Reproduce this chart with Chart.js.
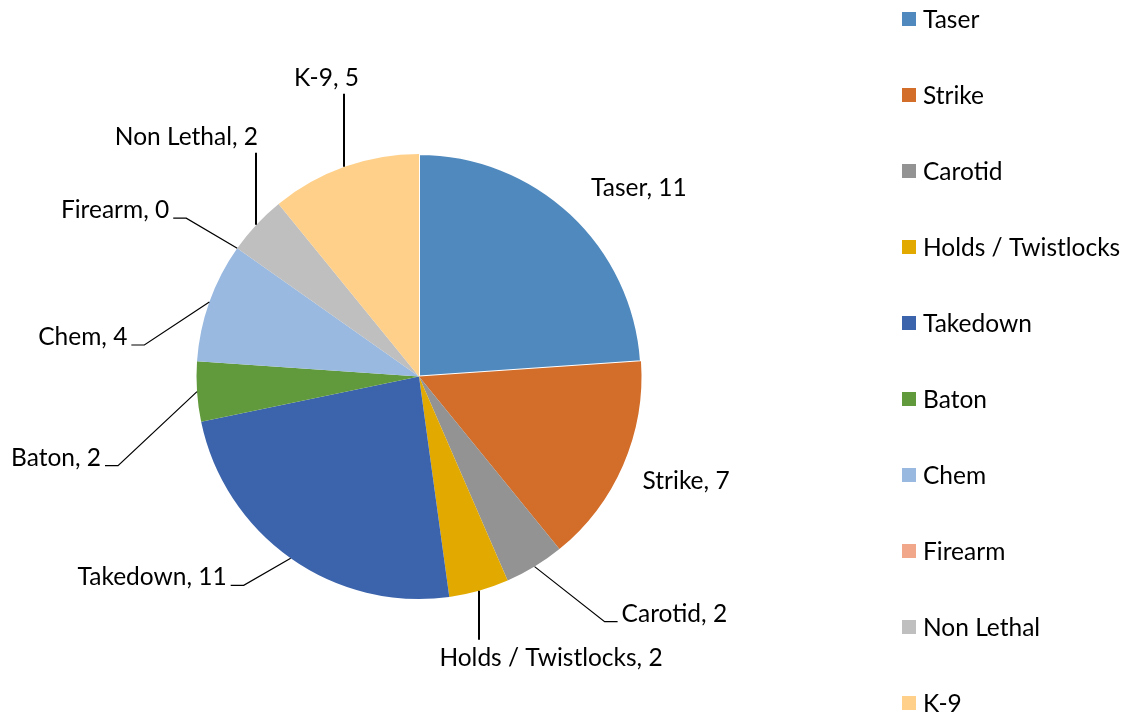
<!DOCTYPE html>
<html>
<head>
<meta charset="utf-8">
<script src="https://cdn.jsdelivr.net/npm/chart.js@4"></script>
<style>
  body { margin: 0; background: #fff; }
  #wrap { position: relative; width: 1123px; height: 717px; }
</style>
</head>
<body>
<div id="wrap"><canvas id="forceChart"></canvas></div>
<script>
var categories = ['Taser', 'Strike', 'Carotid', 'Holds / Twistlocks', 'Takedown', 'Baton', 'Chem', 'Firearm', 'Non Lethal', 'K-9'];
var counts = [11, 7, 2, 2, 11, 2, 4, 0, 2, 5];
var sliceColors = ['#4f89bd', '#d26d2a', '#939393', '#e2aa00', '#3c64ac', '#619a3c', '#99b9e0', '#f1a78a', '#bfbfbf', '#ffd08a'];

var FONT = '24.5px Lato, "Open Sans", sans-serif';

// where each data label sits, relative to the middle of its slice's outer edge
var labelSpots = [
    { dx: 68, dy: -18, align: 'center', leader: 'none' },
    { dx: 63, dy: 24, align: 'center', leader: 'none' },
    { dx: 87, dy: 55, align: 'left', leader: 'elbow' },
    { dx: 72, dy: 75, align: 'center', leader: 'down' },
    { dx: -64, dy: 27, align: 'right', leader: 'elbow' },
    { dx: -96, dy: 74, align: 'right', leader: 'elbow' },
    { dx: -82, dy: 43, align: 'right', leader: 'elbow' },
    { dx: -68, dy: -30, align: 'right', leader: 'elbow' },
    { dx: -70, dy: -80, align: 'center', leader: 'up' },
    { dx: -18, dy: -81, align: 'center', leader: 'up' }
];

// labels with leader lines, drawn outside the pie
var outsideLabels = {
    id: 'outsideLabels',
    afterDatasetsDraw(chart) {
        var ctx = chart.ctx;
        var arcs = chart.getDatasetMeta(0).data;
        ctx.save();
        ctx.font = FONT;
        ctx.fillStyle = '#000';
        ctx.strokeStyle = '#000';
        ctx.textBaseline = 'alphabetic';
        arcs.forEach(function (arc, i) {
            var mid = (arc.startAngle + arc.endAngle) / 2;
            var ex = arc.x + Math.cos(mid) * arc.outerRadius;
            var ey = arc.y + Math.sin(mid) * arc.outerRadius;
            var spot = labelSpots[i];
            var tx = ex + spot.dx, ty = ey + spot.dy;
            ctx.textAlign = spot.align;
            ctx.fillText(categories[i] + ', ' + counts[i], tx, ty);

            ctx.beginPath();
            if (spot.leader === 'elbow') {
                var dir = spot.align === 'left' ? -1 : 1;
                ctx.lineWidth = 1.2;
                ctx.moveTo(ex, ey);
                ctx.lineTo(tx + dir * 17, ty);
                ctx.lineTo(tx + dir * 4, ty);
            } else if (spot.leader === 'up') {
                ctx.lineWidth = 2;
                ctx.moveTo(Math.round(ex), ey);
                ctx.lineTo(Math.round(ex), ty + 8);
            } else if (spot.leader === 'down') {
                ctx.lineWidth = 2;
                ctx.moveTo(Math.round(ex), ey);
                ctx.lineTo(Math.round(ex), ty - 26);
            }
            ctx.stroke();
        });
        ctx.restore();
    }
};

// legend column on the right
var sideLegend = {
    id: 'sideLegend',
    afterDraw(chart) {
        var ctx = chart.ctx;
        ctx.save();
        ctx.font = FONT;
        ctx.textAlign = 'left';
        ctx.textBaseline = 'middle';
        categories.forEach(function (name, i) {
            var y = 19 + i * 76;
            ctx.fillStyle = sliceColors[i];
            ctx.fillRect(902, y - 7, 14, 14);
            ctx.fillStyle = '#000';
            ctx.fillText(name, 923, y + 1);
        });
        ctx.restore();
    }
};

var forceChart = new Chart(document.getElementById('forceChart'), {
    type: 'pie',
    data: {
        labels: categories,
        datasets: [{
            data: counts,
            backgroundColor: sliceColors,
            borderColor: '#ffffff',
            borderWidth: [2, 0, 0, 0, 0, 0, 0, 0, 0, 0]
        }]
    },
    options: {
        responsive: true,
        maintainAspectRatio: false,
        animation: false,
        events: [],
        layout: { padding: { left: 0, right: 285, top: 153, bottom: 117 } },
        plugins: {
            legend: { display: false },
            tooltip: { enabled: false }
        }
    },
    plugins: [outsideLabels, sideLegend]
});
</script>
</body>
</html>
